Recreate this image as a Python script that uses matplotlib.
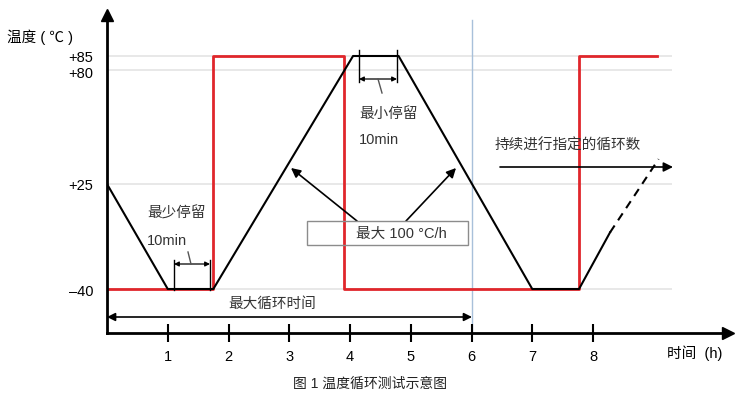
import numpy as np
import matplotlib.pyplot as plt
from matplotlib.patches import Rectangle
from matplotlib.transforms import offset_copy

plt.rcParams['font.family'] = ['Liberation Sans', 'Noto Sans CJK SC', 'DejaVu Sans']

# profile of chamber temperature (black) and test temperature setpoint (red)
prof_t = [0, 1.0, 1.75, 4.05, 4.8, 7.0, 7.77, 8.28]
prof_temp = [25, -40, -40, 85, 85, -40, -40, -5]
dash_t = [8.28, 9.08]
dash_temp = [-5, 37]

red_t = [0, 1.75, 1.75, 3.9, 3.9, 7.77, 7.77, 9.06]
red_temp = [-40, -40, 85, 85, -40, -40, 85, 85]

levels = [-40, 25, 80, 85]
level_labels = ['–40', '+25', '+80', '+85']
hours = [1, 2, 3, 4, 5, 6, 7, 8]
cycle_end = 6

# diagram is not to scale: piecewise mapping temperature -> height
T_KNOTS = [-67, -40, 25, 80, 85, 110]
P_KNOTS = [0, 44, 149, 263, 277, 318]
fwd = lambda v: np.interp(v, T_KNOTS, P_KNOTS)
inv = lambda p: np.interp(p, P_KNOTS, T_KNOTS)

W, H = 740, 403
fig = plt.figure(figsize=(W/100, H/100), dpi=100)
ax = fig.add_axes([107/W, (H-333)/H, (728-107)/W, (333-15)/H])
ax.set_yscale('function', functions=(fwd, inv))
ax.set_xlim(0, 621/60.75)
ax.set_ylim(-67, 110)

def P(x, y):
    return (x/W, 1 - y/H)

ax.hlines(levels, 0, 9.3, color='#e6e6e6', lw=1.3, zorder=0)
ax.axvline(cycle_end, ymax=(333-20)/318, color='#a8c0da', lw=1, zorder=1)

ax.plot(red_t, red_temp, color='#e0262b', lw=2, zorder=2)
ax.plot(prof_t, prof_temp, color='black', lw=1.5, zorder=3)
ax.plot(dash_t, dash_temp, color='black', lw=1.5, dashes=(4, 3), zorder=3)

for s in ['top', 'right']:
    ax.spines[s].set_visible(False)
for s in ['left', 'bottom']:
    ax.spines[s].set_linewidth(2)
ax.plot(0, 1, '^k', ms=9, transform=ax.transAxes, clip_on=False)
ax.plot(1, 0, '>k', ms=9, transform=ax.transAxes, clip_on=False)

ax.set_xticks(hours)
ax.set_xticklabels([str(h) for h in hours])
ax.tick_params(axis='x', direction='inout', length=13, width=1.5, pad=6, labelsize=10.5)
ax.set_yticks(levels)
ax.set_yticklabels(level_labels)
ax.tick_params(axis='y', length=0, pad=10, labelsize=10.5)
ax.minorticks_off()
# labels +85/+80 sit a little below their lines in the original
for lab, dy in zip(ax.get_yticklabels(), [-1, -1, -3, -1]):
    lab.set_transform(offset_copy(lab.get_transform(), fig=fig, y=dy, units='dots'))

fs = 10.5
fig.text(*P(7, 37), '温度 ( ℃ )', fontsize=fs, va='center')
fig.text(*P(667, 353), '时间  (h)', fontsize=fs, va='center')

# max cycle time
fig.text(*P(228, 304), '最大循环时间', fontsize=fs, va='center', color='#333333')
ax.annotate('', xy=P(472, 317), xytext=P(107, 317), xycoords='figure fraction',
            arrowprops=dict(arrowstyle='<|-|>', color='black', lw=1.2,
                            shrinkA=0, shrinkB=0, mutation_scale=12))

# min dwell at -40
fig.text(*P(147, 213), '最少停留', fontsize=fs, va='center', color='#333333')
fig.text(*P(147, 241), '10min', fontsize=fs, va='center', color='#333333')
for x in [174, 210]:
    fig.add_artist(plt.Line2D([x/W, x/W], [1-260/H, 1-290/H], color='black', lw=1))
ax.annotate('', xy=P(210, 264), xytext=P(174, 264), xycoords='figure fraction',
            arrowprops=dict(arrowstyle='<|-|>', color='black', lw=0.9,
                            shrinkA=0, shrinkB=0, mutation_scale=7))
fig.add_artist(plt.Line2D([188/W, 191/W], [1-252/H, 1-264/H], color='#555555', lw=1))

# min dwell at +85
fig.text(*P(359, 114), '最小停留', fontsize=fs, va='center', color='#333333')
fig.text(*P(359, 140), '10min', fontsize=fs, va='center', color='#333333')
for x in [359, 397]:
    fig.add_artist(plt.Line2D([x/W, x/W], [1-50/H, 1-82/H], color='black', lw=1))
ax.annotate('', xy=P(397, 79), xytext=P(359, 79), xycoords='figure fraction',
            arrowprops=dict(arrowstyle='<|-|>', color='black', lw=0.9,
                            shrinkA=0, shrinkB=0, mutation_scale=7))
fig.add_artist(plt.Line2D([378/W, 382/W], [1-79/H, 1-93/H], color='#555555', lw=1))

# max ramp rate box
x0, y0 = P(307, 245)
x1, y1 = P(468, 221)
fig.add_artist(Rectangle((x0, y0), x1-x0, y1-y0, transform=fig.transFigure,
                         facecolor='none', edgecolor='#8c8c8c', lw=1))
fig.text(*P(356, 234), '最大 100 °C/h', fontsize=fs, va='center', color='#333333')
for start, tip in [((357, 221), (291, 168)), ((406, 221), (456, 168))]:
    ax.annotate('', xy=P(*tip), xytext=P(*start), xycoords='figure fraction',
                arrowprops=dict(arrowstyle='-|>', color='black', lw=1.2,
                                shrinkA=0, shrinkB=0, mutation_scale=14))

# continue cycles
fig.text(*P(495, 146), '持续进行指定的循环数', fontsize=fs, va='center', color='#333333')
ax.annotate('', xy=P(673, 167), xytext=P(500, 167), xycoords='figure fraction',
            arrowprops=dict(arrowstyle='-|>', color='black', lw=1.2,
                            shrinkA=0, shrinkB=0, mutation_scale=14))

fig.text(*P(370, 384), '图 1 温度循环测试示意图', fontsize=10, ha='center', va='center',
         color='#222222')

fig.savefig('out.png', dpi=100)
